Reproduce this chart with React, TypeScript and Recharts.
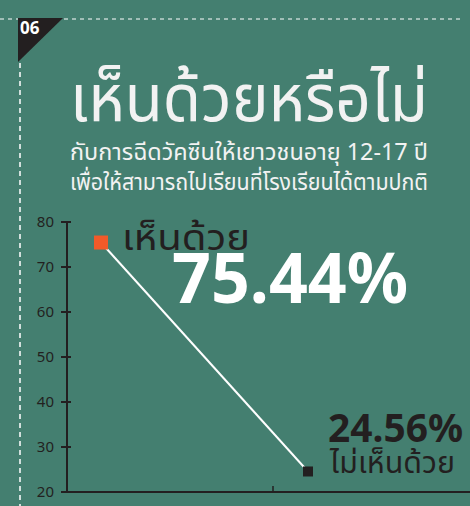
import React from 'react';
import { LineChart, Line, XAxis, YAxis, LabelList } from 'recharts';

const answers = ['เห็นด้วย', 'ไม่เห็นด้วย'];
const percents = [75.44, 24.56];
const yTicks = [20, 30, 40, 50, 60, 70, 80];

const title = 'เห็นด้วยหรือไม่';
const subtitle = ['กับการฉีดวัคซีนให้เยาวชนอายุ 12-17 ปี', 'เพื่อให้สามารถไปเรียนที่โรงเรียนได้ตามปกติ'];
const pageNo = '06';

const data = answers.map((name, i) => ({ name, value: percents[i] }));

const BG = '#447f70';
const DARK = '#231f20';
const ORANGE = '#f15a29';
const THAI = "'Noto Sans Thai', 'Noto Sans', 'DejaVu Sans', sans-serif";
const NUM = "'Noto Sans', 'DejaVu Sans', sans-serif";

function SquareDot(props: any) {
  const { cx, cy, index } = props;
  const s = index === 0 ? 14 : 10;
  return <rect x={cx - s / 2} y={cy - s / 2} width={s} height={s} fill={index === 0 ? ORANGE : DARK} />;
}

// ticks sit inside the plot, labels outside
function YTick(props: any) {
  const { x, y, payload } = props;
  return (
    <g>
      <line x1={x + 7} x2={x + 17} y1={y} y2={y} stroke={DARK} strokeWidth={2} />
      <text x={x} y={y} dy={5} textAnchor="end" fontSize={15} fill={DARK} fontFamily={NUM}>
        {payload.value}
      </text>
    </g>
  );
}

function PointLabel(props: any) {
  const { x, y, index, value } = props;
  const pct = `${Number(value).toFixed(2)}%`;
  if (index === 0) {
    return (
      <g>
        <text x={x + 21} y={y + 7} fontSize={36} fill={DARK} fontFamily={THAI} textLength={128} lengthAdjust="spacingAndGlyphs">
          {answers[0]}
        </text>
        <text x={x + 71} y={y + 60} fontSize={70} fontWeight={700} fill="#fff" fontFamily={NUM} textLength={236} lengthAdjust="spacingAndGlyphs">
          {pct}
        </text>
      </g>
    );
  }
  return (
    <g>
      <text x={x + 20} y={y - 29} fontSize={40} fontWeight={700} fill={DARK} fontFamily={NUM} textLength={135} lengthAdjust="spacingAndGlyphs">
        {pct}
      </text>
      <text x={x + 22} y={y + 2} fontSize={30} fill={DARK} fontFamily={THAI} textLength={125} lengthAdjust="spacingAndGlyphs">
        {answers[1]}
      </text>
    </g>
  );
}

export default function App() {
  return (
    <div style={{ position: 'fixed', left: 0, top: 0, width: 470, height: 506, overflow: 'hidden', background: BG }}>
      <svg width={470} height={506} style={{ position: 'absolute', left: 0, top: 0 }}>
        <line x1={0} x2={462} y1={19} y2={19} stroke="#fff" strokeWidth={1} strokeDasharray="4 4" />
        <line x1={20} x2={20} y1={63} y2={506} stroke="#fff" strokeWidth={1.5} strokeDasharray="5 4" />
        <polygon points="18,18 63,18 18,62" fill={DARK} />
        <text x={20} y={34} fontSize={17} fontWeight={700} fill="#fff" fontFamily={NUM}>{pageNo}</text>
        <text x={70} y={121} fontSize={66} fill="#f2f2f2" fontFamily={THAI} textLength={358} lengthAdjust="spacingAndGlyphs">
          {title}
        </text>
        <text x={70} y={160} fontSize={23} fill="#f2f2f2" fontFamily={THAI} textLength={358} lengthAdjust="spacingAndGlyphs">
          {subtitle[0]}
        </text>
        <text x={70} y={190} fontSize={23} fill="#f2f2f2" fontFamily={THAI} textLength={358} lengthAdjust="spacingAndGlyphs">
          {subtitle[1]}
        </text>
        <line x1={273} x2={273} y1={486} y2={492} stroke={DARK} strokeWidth={1.5} />
      </svg>
      <div style={{ position: 'absolute', left: 0, top: 0 }}>
        <LineChart width={479} height={506} data={data} margin={{ top: 222, right: 0, bottom: 0, left: 0 }}>
          <XAxis
            dataKey="name"
            type="category"
            scale="point"
            padding={{ left: 34, right: 171 }}
            height={14}
            tick={false}
            tickLine={false}
            axisLine={{ stroke: DARK, strokeWidth: 2 }}
          />
          <YAxis
            type="number"
            domain={[20, 80]}
            ticks={yTicks}
            width={67}
            tick={<YTick />}
            tickLine={false}
            tickMargin={7}
            axisLine={{ stroke: DARK, strokeWidth: 2 }}
          />
          <Line
            dataKey="value"
            stroke="#fff"
            strokeWidth={2}
            dot={<SquareDot />}
            activeDot={false}
            isAnimationActive={false}
          >
            <LabelList dataKey="value" content={<PointLabel />} />
          </Line>
        </LineChart>
      </div>
    </div>
  );
}
